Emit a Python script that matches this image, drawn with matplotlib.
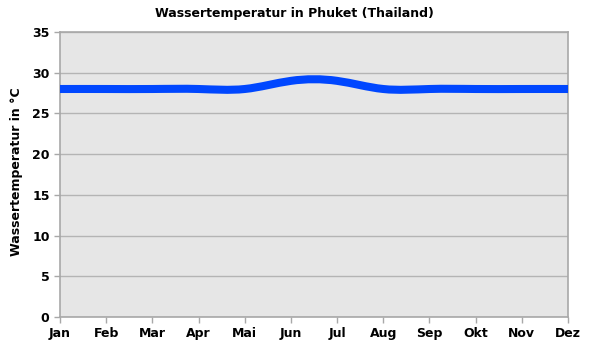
import numpy as np
import matplotlib
matplotlib.use("Agg")
import matplotlib.pyplot as plt
from matplotlib.path import Path
from matplotlib.patches import PathPatch

months = ["Jan", "Feb", "Mar", "Apr", "Mai", "Jun", "Jul", "Aug", "Sep", "Okt", "Nov", "Dez"]
temps = [28, 28, 28, 28, 28, 29, 29, 28, 28, 28, 28, 28]
yticks = [0, 5, 10, 15, 20, 25, 30, 35]

plt.rcParams['font.family'] = ['DejaVu Sans']
plt.rcParams['font.weight'] = 'bold'

fig = plt.figure(figsize=(5.89, 3.54), dpi=100)
ax = fig.add_axes([60/589, 1-317/354, 508/589, 285/354])
ax.set_facecolor('#e6e6e6')

# smoothed line: natural cubic spline through the monthly values, drawn as bezier segments
x = np.arange(len(temps), dtype=float)
y = np.array(temps, dtype=float)
n = len(y)
A = np.zeros((n, n))
b = np.zeros(n)
A[0, 0], A[0, 1], b[0] = 2, 1, 3*(y[1]-y[0])
A[-1, -2], A[-1, -1], b[-1] = 1, 2, 3*(y[-1]-y[-2])
for i in range(1, n-1):
    A[i, i-1], A[i, i], A[i, i+1] = 1, 4, 1
    b[i] = 3*(y[i+1]-y[i-1])
m = np.linalg.solve(A, b)  # slopes at each month

verts = [(x[0], y[0])]
codes = [Path.MOVETO]
for i in range(n - 1):
    verts += [(x[i] + 1/3, y[i] + m[i]/3), (x[i+1] - 1/3, y[i+1] - m[i+1]/3), (x[i+1], y[i+1])]
    codes += [Path.CURVE4]*3
ax.add_patch(PathPatch(Path(verts, codes), fill=False, edgecolor='#0047ff',
                       lw=5.8, capstyle='butt', zorder=3))

ax.set_xlim(0, 11)
ax.set_ylim(0, 35)
ax.set_xticks(x)
ax.set_xticklabels(months)
ax.set_yticks(yticks)
ax.grid(axis='y', color='#b4b4b4', lw=1)
ax.set_axisbelow(True)
for s in ax.spines.values():
    s.set_color('#a8a8a8')
    s.set_linewidth(1.2)
ax.tick_params(axis='both', colors='#a8a8a8', labelcolor='black',
               labelsize=9, length=4, width=1)
ax.tick_params(axis='x', pad=3)

fig.text(0.5, 1-14/354, "Wassertemperatur in Phuket (Thailand)", ha='center',
         va='center', fontsize=9, fontweight='bold')
fig.text(17/589, 1-172/354, "Wassertemperatur in °C", rotation=90, ha='center',
         va='center', fontsize=9, fontweight='bold')

fig.savefig("out.png", dpi=100, facecolor='white')
